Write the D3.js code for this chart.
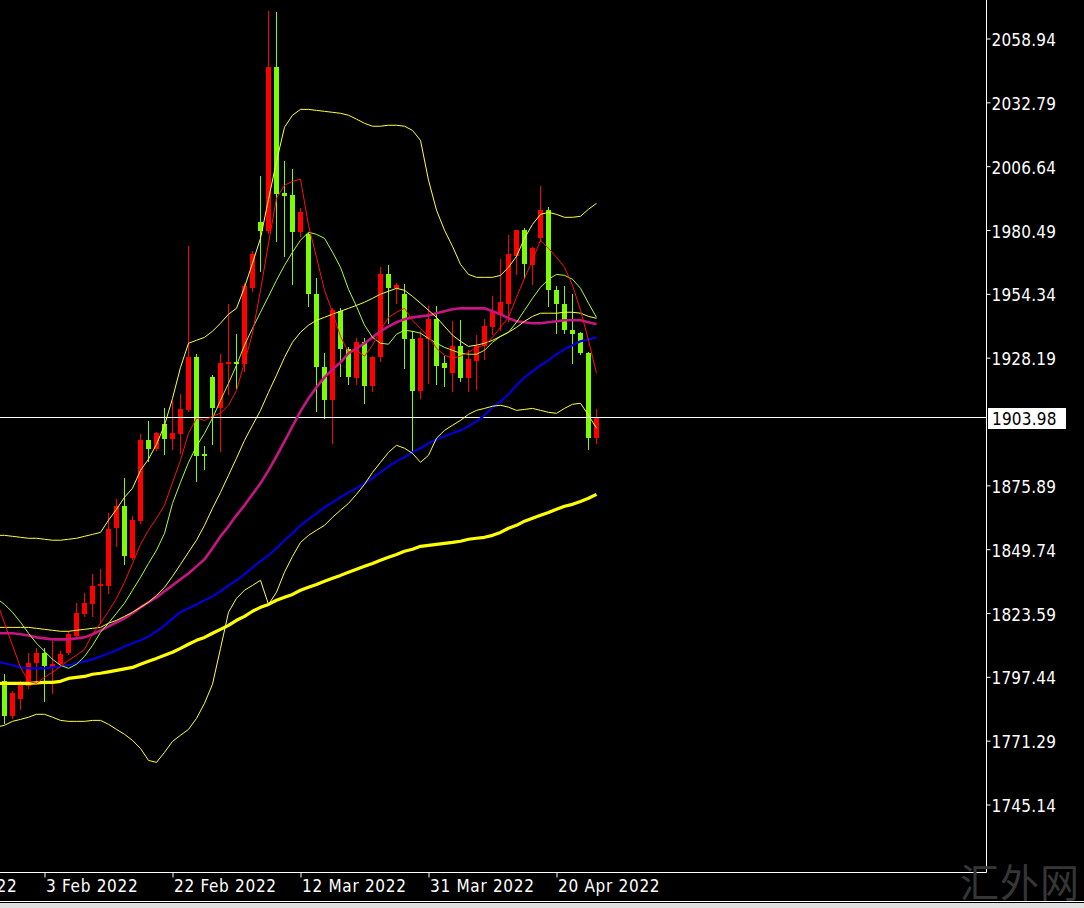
<!DOCTYPE html>
<html><head><meta charset="utf-8">
<script src="https://cdn.jsdelivr.net/npm/d3@7/dist/d3.min.js"></script>
<style>
html,body{margin:0;padding:0;background:#000;overflow:hidden}
svg{display:block}
</style></head><body>
<svg id="c" width="1084" height="908"></svg>
<script>
// ---- data (XAUUSD daily) ----
const opens = [1795.90,1781.56,1788.53,1793.85,1803.28,1807.37,1801.64,1802.87,1807.37,1814.34,1823.35,1827.45,1834.82,1834.82,1858.59,1867.60,1846.30,1861.46,1894.64,1890.96,1901.20,1895.06,1897.10,1906.93,1928.65,1888.91,1920.46,1907.75,1925.78,1926.60,1925.78,1956.92,1983.96,1980.27,2047.06,1995.84,1995.02,1979.86,1979.05,1954.46,1924.55,1911.03,1947.50,1931.93,1920.05,1934.80,1916.77,1928.65,1962.66,1956.92,1954.46,1936.02,1914.72,1936.02,1944.22,1926.19,1922.09,1933.16,1920.05,1927.01,1933.16,1940.94,1945.86,1950.36,1970.03,1980.68,1966.34,1977.41,1988.88,1956.10,1950.36,1939.71,1938.48,1930.29,1895.46];
const highs = [1798.77,1791.80,1795.90,1807.37,1809.42,1809.42,1812.29,1808.19,1816.39,1827.86,1831.96,1839.74,1841.79,1864.73,1870.47,1879.07,1863.50,1897.10,1902.43,1897.92,1907.75,1910.62,1913.49,1974.13,1929.88,1892.18,1921.00,1929.88,1950.36,1938.07,1958.97,1972.08,2002.81,2070.41,2070.00,2008.95,2005.68,1989.70,1979.45,1961.02,1930.29,1948.73,1948.73,1932.75,1936.43,1936.43,1929.06,1965.52,1966.34,1958.97,1958.56,1939.30,1939.30,1949.55,1949.55,1929.06,1943.40,1943.81,1931.52,1937.66,1944.22,1953.64,1968.80,1978.64,1980.68,1981.50,1973.72,1998.71,1990.11,1957.74,1957.74,1954.46,1938.89,1930.70,1907.34];
const lows = [1778.69,1780.74,1784.43,1793.03,1794.67,1787.71,1790.98,1802.05,1806.96,1813.52,1822.53,1822.53,1819.66,1831.96,1851.21,1843.84,1845.89,1860.64,1886.04,1890.55,1888.91,1890.96,1889.32,1906.52,1877.84,1882.76,1893.00,1890.14,1913.49,1915.95,1922.91,1955.69,1963.89,1979.45,1976.18,1970.03,1958.56,1978.23,1949.55,1906.52,1903.66,1893.41,1920.86,1917.59,1917.59,1909.80,1914.72,1927.01,1942.58,1950.77,1924.14,1889.32,1911.85,1918.00,1917.59,1916.77,1914.72,1918.82,1914.72,1915.54,1927.83,1938.07,1939.71,1943.40,1962.66,1961.02,1958.56,1976.18,1949.55,1938.48,1938.48,1926.19,1929.88,1890.96,1893.41];
const closes = [1781.56,1790.98,1794.67,1803.28,1807.37,1802.05,1802.87,1806.96,1815.16,1823.76,1827.86,1834.82,1835.64,1858.18,1867.60,1847.12,1861.87,1894.64,1890.96,1897.51,1895.06,1897.51,1907.34,1928.65,1888.09,1888.09,1907.75,1926.19,1926.60,1925.78,1957.74,1970.85,1980.27,2047.06,1995.43,1994.61,1979.86,1988.06,1954.46,1924.55,1911.03,1947.91,1931.93,1920.46,1934.80,1916.77,1928.65,1962.66,1956.92,1958.15,1936.02,1914.72,1936.43,1944.22,1924.96,1924.14,1933.16,1920.05,1927.83,1933.16,1941.35,1947.09,1951.18,1970.85,1980.68,1966.75,1973.31,1988.88,1956.10,1950.36,1939.71,1938.07,1930.29,1895.46,1903.98];

// indicator lines: one value per bar, starting one bar before the first full candle (partly off-screen)
const maFast = [1828.8,1819.4,1810.3,1801.3,1795.6,1794.8,1797.2,1799.3,1801.7,1804.2,1806.3,1808.7,1814.9,1819.4,1824.3,1829.6,1836.2,1843.9,1851.7,1857.5,1862.4,1867.7,1877.1,1886.1,1897.2,1903.4,1902.5,1904.2,1905.4,1908.7,1914.8,1926.3,1938.2,1955.8,1975.0,1993.5,1998.8,2000.4,2001.3,1982.4,1969.3,1955.8,1946.8,1936.9,1930.4,1931.2,1928.8,1933.3,1939.4,1944.7,1946.8,1948.4,1943.5,1940.2,1936.9,1932.0,1929.2,1927.9,1928.8,1930.4,1932.4,1933.3,1936.5,1940.6,1944.7,1952.9,1960.7,1968.1,1976.3,1973.0,1969.3,1965.2,1957.8,1947.6,1935.3,1921.8];
const maMid = [1829.6,1827.1,1823.9,1819.8,1815.3,1811.2,1807.9,1804.6,1802.2,1800.9,1802.6,1805.8,1810.3,1815.7,1819.4,1823.5,1827.6,1832.9,1838.2,1843.9,1849.3,1856.2,1868.5,1877.1,1885.3,1891.9,1897.2,1903.4,1910.7,1917.7,1925.1,1933.3,1940.2,1946.8,1953.3,1959.9,1966.0,1971.4,1976.3,1979.6,1978.7,1977.1,1971.4,1965.2,1956.2,1949.2,1941.5,1936.5,1934.1,1933.7,1937.8,1939.4,1939.0,1938.2,1936.1,1934.1,1932.4,1931.2,1930.0,1929.6,1929.6,1931.2,1934.5,1936.9,1938.6,1942.7,1947.6,1952.5,1957.0,1960.3,1962.3,1961.9,1960.3,1956.6,1950.5,1944.7];
const bbMiddle = [1817.7,1817.7,1817.7,1817.7,1817.7,1817.3,1816.9,1816.5,1816.1,1816.1,1816.5,1816.9,1817.3,1817.7,1819.4,1820.6,1822.2,1823.9,1825.9,1828.0,1830.8,1834.1,1838.6,1843.5,1848.5,1853.4,1859.5,1866.5,1873.0,1880.0,1887.0,1894.3,1900.5,1906.6,1914.0,1921.0,1928.3,1934.5,1938.6,1941.5,1943.5,1944.7,1946.0,1947.2,1948.4,1949.6,1950.9,1952.5,1954.2,1955.4,1956.6,1955.8,1953.3,1950.5,1947.6,1944.7,1941.0,1937.4,1934.9,1932.8,1933.3,1934.1,1935.3,1936.9,1938.6,1940.6,1943.1,1945.1,1946.4,1946.4,1946.4,1946.8,1946.8,1946.4,1945.1,1944.3];
const bbUpper = [1855.4,1855.4,1855.0,1854.6,1854.2,1854.2,1853.8,1853.4,1853.4,1853.8,1854.2,1855.0,1855.8,1856.6,1861.6,1866.1,1871.0,1874.7,1882.0,1886.6,1892.7,1900.5,1911.5,1924.2,1934.1,1935.3,1936.5,1939.0,1942.3,1946.0,1948.4,1957.0,1966.9,1977.1,1993.1,2008.6,2022.6,2027.5,2029.9,2029.9,2029.5,2029.1,2028.7,2028.3,2027.5,2025.9,2024.2,2023.0,2023.0,2023.4,2023.4,2023.0,2021.3,2017.2,2000.9,1988.6,1980.4,1973.8,1966.4,1962.3,1961.1,1961.1,1961.1,1961.9,1965.2,1969.7,1977.1,1982.8,1986.9,1987.7,1986.9,1985.7,1985.7,1986.1,1989.0,1991.4];
const bbLower = [1776.8,1777.6,1779.2,1780.0,1780.9,1782.1,1782.1,1780.9,1779.6,1779.2,1779.2,1779.2,1779.6,1779.6,1778.0,1775.9,1773.9,1771.4,1768.1,1763.2,1762.4,1766.5,1771.0,1773.5,1775.9,1780.4,1786.6,1794.4,1809.1,1823.9,1829.6,1832.9,1834.9,1837.0,1827.1,1832.1,1840.3,1846.8,1852.5,1855.4,1857.5,1859.5,1862.8,1865.7,1868.5,1872.2,1876.3,1881.2,1885.3,1889.4,1892.3,1891.1,1889.0,1885.3,1888.2,1895.2,1898.4,1900.5,1902.5,1905.0,1906.6,1907.4,1908.3,1908.7,1907.9,1906.6,1907.0,1907.4,1906.6,1905.8,1905.4,1907.4,1909.1,1909.5,1904.6,1899.3];
const ma50 = [1815.3,1815.3,1815.3,1814.9,1814.4,1813.6,1813.2,1812.8,1812.8,1812.8,1813.2,1813.6,1814.9,1816.5,1818.1,1819.8,1821.4,1823.5,1825.9,1828.0,1830.0,1832.5,1834.9,1837.4,1839.8,1842.7,1845.6,1850.1,1855.0,1859.1,1863.6,1867.7,1872.2,1876.7,1882.0,1887.8,1893.9,1900.1,1906.2,1911.5,1916.1,1920.1,1923.4,1926.3,1930.0,1932.0,1934.1,1936.5,1939.0,1941.0,1942.7,1943.9,1944.7,1945.1,1945.5,1946.4,1947.2,1948.0,1948.4,1948.4,1948.4,1948.4,1947.2,1946.0,1944.3,1943.1,1942.7,1942.3,1942.3,1942.7,1943.1,1943.5,1943.5,1943.5,1942.7,1941.9];
const ma100 = [1803.8,1803.0,1802.2,1801.3,1800.9,1800.9,1800.9,1801.3,1801.7,1802.2,1803.0,1803.8,1804.6,1805.8,1807.1,1808.3,1809.9,1811.2,1812.4,1814.0,1816.1,1818.5,1821.4,1823.9,1825.5,1827.1,1828.8,1830.4,1832.5,1834.9,1837.0,1839.4,1842.3,1844.8,1847.2,1850.1,1853.4,1856.2,1859.5,1862.0,1864.4,1866.9,1868.9,1871.0,1873.0,1874.7,1876.7,1878.8,1881.2,1883.7,1885.7,1887.4,1889.4,1891.1,1893.1,1894.7,1896.0,1897.2,1898.4,1900.1,1902.1,1904.6,1907.9,1910.3,1913.2,1916.9,1920.1,1922.6,1925.1,1927.1,1929.6,1931.6,1933.3,1934.9,1935.7,1936.5];
const ma200 = [1794.8,1794.8,1794.8,1794.8,1794.8,1795.0,1795.2,1795.2,1795.6,1796.8,1797.2,1797.6,1798.5,1798.9,1799.5,1800.1,1800.7,1801.3,1802.6,1803.8,1805.0,1806.3,1807.5,1809.1,1810.8,1812.4,1813.6,1815.3,1816.9,1818.5,1820.6,1822.2,1824.3,1825.9,1827.1,1828.8,1830.0,1831.2,1832.9,1834.1,1835.3,1836.6,1837.8,1839.0,1840.3,1841.5,1842.7,1843.9,1845.2,1846.4,1847.6,1848.9,1849.7,1850.9,1851.3,1851.7,1852.1,1852.5,1853.0,1853.8,1854.2,1854.6,1855.4,1856.6,1858.3,1859.5,1861.2,1862.4,1863.6,1864.8,1866.1,1867.3,1868.1,1869.3,1870.6,1872.2];

const xTickIdx = [-11, 5, 21, 37, 53, 69];
const xTickLabels = ["16 Jan 2022","3 Feb 2022","22 Feb 2022","12 Mar 2022","31 Mar 2022","20 Apr 2022"];
const yTicks = [2058.94,2032.79,2006.64,1980.49,1954.34,1928.19,1875.89,1849.74,1823.59,1797.44,1771.29,1745.14];
const lastPrice = 1903.98;
const watermark = "汇外网";

// ---- drawing ----
const W = 1084, H = 908, axisX = 986.5, axisY = 872.5;
const FONT = "'DejaVu Sans Condensed','DejaVu Sans',sans-serif";
const FS = 17;
const svg = d3.select("#c");
svg.append("rect").attr("width", W).attr("height", H).attr("fill", "#000");

const x = d3.scaleLinear().domain([0, 74]).range([4.5, 596.5]);
const y = d3.scaleLinear().domain([1745.14, 2058.94]).range([804.5, 38.5]);
const idx = d3.range(opens.length);

svg.append("clipPath").attr("id", "pc").append("rect").attr("width", axisX).attr("height", axisY);
const pg = svg.append("g").attr("clip-path", "url(#pc)");

// candles
const UP = "#ff0000", DN = "#7cfc00";
const cg = pg.append("g").attr("shape-rendering", "crispEdges");
cg.selectAll("line").data(idx).join("line")
  .attr("x1", i => x(i)).attr("x2", i => x(i))
  .attr("y1", i => Math.round(y(highs[i]))).attr("y2", i => Math.round(y(lows[i])) + 1)
  .attr("stroke", i => closes[i] >= opens[i] ? UP : DN).attr("stroke-width", 1);
cg.selectAll("rect").data(idx).join("rect")
  .attr("x", i => x(i) - 2.5).attr("width", 5)
  .attr("y", i => Math.round(y(Math.max(opens[i], closes[i]))))
  .attr("height", i => Math.max(1, Math.round(y(Math.min(opens[i], closes[i]))) - Math.round(y(Math.max(opens[i], closes[i])))))
  .attr("fill", i => closes[i] >= opens[i] ? UP : DN);

// current price line
const py = Math.round(y(lastPrice)) + 0.5;
pg.append("line").attr("x1", 0).attr("x2", axisX).attr("y1", py).attr("y2", py)
  .attr("stroke", "#fff").attr("stroke-width", 1);

// indicator lines (first value belongs to bar -1)
const lineOf = arr => d3.line().x((d, i) => x(i - 1)).y(d => y(d))(arr);
const series = [
  [ma200, "#ffff00", 3.2],
  [ma100, "#0000d8", 2.2],
  [ma50, "#c71585", 2.6],
  [bbUpper, "#ffff40", 1],
  [bbLower, "#ffff40", 1],
  [bbMiddle, "#ffff40", 1],
  [maMid, "#adff2f", 1],
  [maFast, "#ff1010", 1]
];
series.forEach(([arr, col, w]) => {
  pg.append("path").attr("d", lineOf(arr)).attr("fill", "none").attr("stroke", col)
    .attr("stroke-width", w).attr("stroke-linejoin", "round");
});

// axes
const ya = d3.axisRight(y).tickValues(yTicks).tickFormat(d3.format(".2f")).tickSize(4).tickPadding(1);
const yg = svg.append("g").attr("transform", `translate(${axisX},0)`).call(ya);
yg.select(".domain").remove();
yg.selectAll("line").attr("stroke", "#fff");
yg.selectAll("text").attr("fill", "#fff").attr("font-family", FONT).attr("font-size", FS)
  .attr("letter-spacing", 0.2).attr("dy", "0.42em");

const xa = d3.axisBottom(x).tickValues(xTickIdx).tickFormat((d, i) => xTickLabels[i]).tickSize(5).tickPadding(1);
const xg = svg.append("g").attr("transform", `translate(0,${axisY})`).call(xa);
xg.select(".domain").remove();
xg.selectAll("line").attr("stroke", "#fff");
xg.selectAll("text").attr("fill", "#fff").attr("font-family", FONT).attr("font-size", FS)
  .attr("letter-spacing", 0.7).attr("text-anchor", "start").attr("x", 1).attr("dy", "0.78em");

// frame lines
svg.append("line").attr("x1", axisX).attr("x2", axisX).attr("y1", 0).attr("y2", axisY).attr("stroke", "#fff");
svg.append("line").attr("x1", 0).attr("x2", axisX).attr("y1", axisY).attr("y2", axisY).attr("stroke", "#fff");

// price box
svg.append("rect").attr("x", 988).attr("y", py - 9.5).attr("width", 78).attr("height", 21).attr("fill", "#fff");
svg.append("text").attr("x", 992).attr("y", py + 1).attr("dy", "0.38em").attr("fill", "#000")
  .attr("font-family", FONT).attr("font-size", FS).attr("letter-spacing", 0.2).text(d3.format(".2f")(lastPrice));

// watermark
svg.append("text").attr("x", 960).attr("y", 897).attr("fill", "#363636")
  .attr("font-family", "'Noto Sans CJK SC',sans-serif").attr("font-size", 39).attr("font-weight", 400)
  .attr("letter-spacing", 1).text(watermark);

// bottom border
svg.append("line").attr("x1", 0).attr("x2", W).attr("y1", 901.5).attr("y2", 901.5).attr("stroke", "#fff");
svg.append("rect").attr("x", 0).attr("y", 903).attr("width", W).attr("height", 5).attr("fill", "#e0e0e0");
</script>
</body></html>
